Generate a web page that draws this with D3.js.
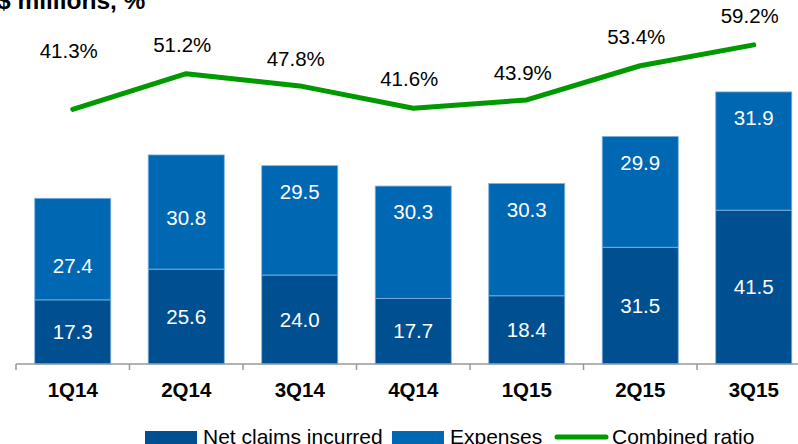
<!DOCTYPE html>
<html>
<head>
<meta charset="utf-8">
<script src="https://cdn.jsdelivr.net/npm/d3@7"></script>
<style>
  html, body { margin: 0; padding: 0; background: #fff; }
  svg { display: block; font-family: "Liberation Sans", Arial, sans-serif; }
</style>
</head>
<body>
<svg id="chart" width="798" height="444"></svg>
<script>
// ---- data ----
const categories = ["1Q14", "2Q14", "3Q14", "4Q14", "1Q15", "2Q15", "3Q15"];
const netClaims = [17.3, 25.6, 24.0, 17.7, 18.4, 31.5, 41.5];
const expenses = [27.4, 30.8, 29.5, 30.3, 30.3, 29.9, 31.9];
const combinedRatio = [41.3, 51.2, 47.8, 41.6, 43.9, 53.4, 59.2];
const seriesNames = ["Net claims incurred", "Expenses", "Combined ratio"];

// ---- layout (not data) ----
const colors = { net: "#005091", exp: "#0067b2", ratio: "#009a00", edge: "#7fb2e0" };
const expLabelFromTop = [68, 63, 26, 26, 26, 26, 26];
const ratioLabelLift = [58, 29, 27, 29, 27, 29, 29];

const svg = d3.select("#chart");
const axisY = 364;

const x = d3.scaleBand().domain(categories).range([16, 810.5])
  .paddingInner(0.33).paddingOuter(0.165);
const y = d3.scaleLinear().domain([0, 80]).range([axisY, axisY - 80 * 3.707]);
const yr = d3.scaleLinear().domain([0, 60]).range([258, 42]);

// title
svg.append("text").attr("x", -3).attr("y", 9)
  .attr("font-size", 24.5).attr("font-weight", "bold").attr("fill", "#000")
  .text("$ millions, %");

// bars
const rows = categories.map((c, i) => ({ c, net: netClaims[i], exp: expenses[i], i }));
const g = svg.append("g");
g.selectAll("rect.net").data(rows).join("rect")
  .attr("x", d => x(d.c)).attr("width", x.bandwidth())
  .attr("y", d => y(d.net)).attr("height", d => y(0) - y(d.net))
  .attr("fill", colors.net).attr("stroke", colors.edge).attr("stroke-width", 0.8);
g.selectAll("rect.exp").data(rows).join("rect")
  .attr("x", d => x(d.c)).attr("width", x.bandwidth())
  .attr("y", d => y(d.net + d.exp)).attr("height", d => y(d.net) - y(d.net + d.exp))
  .attr("fill", colors.exp).attr("stroke", colors.edge).attr("stroke-width", 0.8);

// bar labels
g.selectAll("text.net").data(rows).join("text")
  .attr("x", d => x(d.c) + x.bandwidth() / 2)
  .attr("y", d => (y(0) + y(d.net)) / 2).attr("dy", "0.35em")
  .attr("text-anchor", "middle").attr("font-size", 20.5).attr("fill", "#fff")
  .text(d => d.net.toFixed(1));
g.selectAll("text.exp").data(rows).join("text")
  .attr("x", d => x(d.c) + x.bandwidth() / 2)
  .attr("y", d => y(d.net + d.exp) + expLabelFromTop[d.i]).attr("dy", "0.35em")
  .attr("text-anchor", "middle").attr("font-size", 20.5).attr("fill", "#fff")
  .text(d => d.exp.toFixed(1));

// axis
const ax = svg.append("g").attr("stroke", "#999").attr("stroke-width", 1.5);
ax.append("line").attr("x1", 16).attr("x2", 798).attr("y1", axisY).attr("y2", axisY);
d3.range(categories.length + 1).forEach(i => {
  const tx = x.range()[0] + i * x.step();
  ax.append("line").attr("x1", tx).attr("x2", tx).attr("y1", axisY).attr("y2", axisY + 6);
});
svg.selectAll("text.cat").data(categories).join("text")
  .attr("x", d => x(d) + x.bandwidth() / 2).attr("y", 390).attr("dy", "0.35em")
  .attr("text-anchor", "middle").attr("font-size", 20.5).attr("font-weight", "bold")
  .attr("fill", "#000").text(d => d);

// combined ratio line
const line = d3.line().x((d, i) => x(categories[i]) + x.bandwidth() / 2).y(d => yr(d));
svg.append("path").datum(combinedRatio).attr("d", line)
  .attr("fill", "none").attr("stroke", colors.ratio).attr("stroke-width", 5)
  .attr("stroke-linejoin", "round").attr("stroke-linecap", "round");
svg.selectAll("text.ratio").data(combinedRatio).join("text")
  .attr("x", (d, i) => x(categories[i]) + x.bandwidth() / 2 - 4)
  .attr("y", (d, i) => yr(d) - ratioLabelLift[i]).attr("dy", "0.35em")
  .attr("text-anchor", "middle").attr("font-size", 20.5).attr("fill", "#000")
  .text(d => d.toFixed(1) + "%");

// legend
const lg = svg.append("g");
const ly = 437;
lg.append("rect").attr("x", 145).attr("y", ly - 6).attr("width", 52).attr("height", 13).attr("fill", colors.net);
lg.append("text").attr("x", 203).attr("y", ly).attr("dy", "0.35em").attr("font-size", 21).text(seriesNames[0]);
lg.append("rect").attr("x", 392).attr("y", ly - 6).attr("width", 52).attr("height", 13).attr("fill", colors.exp);
lg.append("text").attr("x", 450).attr("y", ly).attr("dy", "0.35em").attr("font-size", 21).text(seriesNames[1]);
lg.append("line").attr("x1", 557).attr("x2", 606).attr("y1", ly).attr("y2", ly)
  .attr("stroke", colors.ratio).attr("stroke-width", 5).attr("stroke-linecap", "round");
lg.append("text").attr("x", 612).attr("y", ly).attr("dy", "0.35em").attr("font-size", 21).text(seriesNames[2]);
</script>
</body>
</html>
